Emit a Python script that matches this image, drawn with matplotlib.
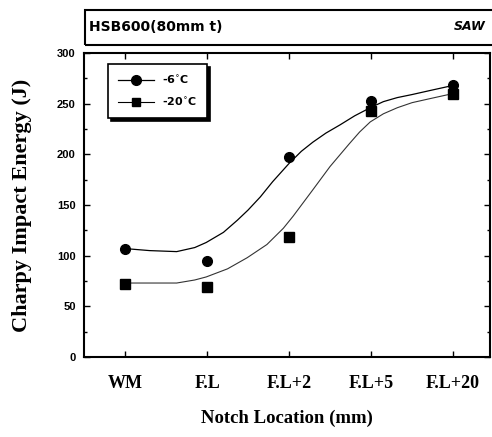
import matplotlib
matplotlib.use("Agg")
import matplotlib.pyplot as plt
from matplotlib.patches import Rectangle
from matplotlib.ticker import MultipleLocator

# ---- data ----
categories = ["WM", "F.L", "F.L+2", "F.L+5", "F.L+20"]
energy_m6 = [107, 95, 197, 253, 268]     # -6 °C
energy_m20 = [72, 69, 118, 243, 260]     # -20 °C

# fitted trend curves (x in category units)
fit_x_m6 = [0.0, 0.3, 0.63, 0.85, 0.99, 1.2, 1.37, 1.5, 1.65, 1.8, 2.0, 2.15, 2.29, 2.45, 2.62, 2.8, 2.99, 3.15, 3.32, 3.5, 3.72, 4.0]
fit_y_m6 = [107, 105, 104, 108, 113, 123, 135, 145, 158, 173, 191, 203, 212, 221, 229, 238, 246, 252, 256, 259, 263, 268]
fit_x_m20 = [0.0, 0.3, 0.63, 0.85, 0.99, 1.25, 1.49, 1.73, 1.93, 2.05, 2.17, 2.29, 2.5, 2.73, 2.86, 2.99, 3.15, 3.32, 3.5, 3.72, 4.0]
fit_y_m20 = [73, 73, 73, 76, 79, 87, 98, 111, 127, 139, 152, 165, 188, 210, 222, 232, 240, 246, 251, 255, 260]

yticks = [0, 50, 100, 150, 200, 250, 300]
ytick_labels = ["0", "50", "100", "150", "200", "250", "300"]

fig = plt.figure(figsize=(4.92, 4.37), dpi=100)
ax = fig.add_axes([84 / 492, 1 - 357 / 437, (490 - 84) / 492, (357 - 53) / 437])

x = list(range(len(categories)))
ax.plot(fit_x_m6, fit_y_m6, color="black", lw=0.9)
ax.plot(fit_x_m20, fit_y_m20, color="#333333", lw=0.8)
ax.plot(x, energy_m6, "o", color="black", ms=7)
ax.plot(x, energy_m20, "s", color="black", ms=6.5)

# legend handles
h1, = ax.plot([], [], "-o", color="black", lw=0.9, ms=7, label="-6$^{\\circ}$C")
h2, = ax.plot([], [], "-s", color="black", lw=0.8, ms=6, label="-20$^{\\circ}$C")
leg = ax.legend(handles=[h1, h2], loc="upper left", bbox_to_anchor=(0.059, 0.964),
                borderaxespad=0, numpoints=1, handlelength=3.2, fancybox=False,
                framealpha=1, edgecolor="black", shadow={"color": "black", "alpha": 1},
                prop={"family": "DejaVu Sans", "weight": "bold", "size": 8},
                borderpad=0.9, labelspacing=0.9)
leg.get_frame().set_linewidth(1.2)

ax.set_xlim(-0.5, 4.45)
ax.set_ylim(0, 300)
ax.set_xticks(x)
ax.set_xticklabels(categories, fontfamily="Liberation Serif", fontweight="bold", fontsize=13)
ax.set_yticks(yticks)
ax.set_yticklabels(ytick_labels, fontfamily="Liberation Sans", fontweight="bold", fontsize=8)
ax.yaxis.set_minor_locator(MultipleLocator(25))
ax.tick_params(axis="both", which="both", direction="in", top=True, right=True)
ax.tick_params(axis="both", which="major", length=4, width=1)
ax.tick_params(axis="both", which="minor", length=2.5, width=1)
ax.tick_params(axis="x", pad=13)
ax.tick_params(axis="y", pad=6)
for s in ax.spines.values():
    s.set_linewidth(1.5)

ax.set_xlabel("Notch Location (mm)", fontfamily="Liberation Serif", fontweight="bold",
              fontsize=13.5, labelpad=13)
ax.set_ylabel("Charpy Impact Energy (J)", fontfamily="Liberation Serif", fontweight="bold",
              fontsize=16, labelpad=18)

# header box
fig.patches.append(Rectangle((85 / 492, 1 - 45 / 437), 1.0, 35 / 437, transform=fig.transFigure,
                             fill=False, edgecolor="black", lw=1.5))
fig.text(89 / 492, 1 - 27 / 437, "HSB600(80mm t)", ha="left", va="center",
         fontfamily="DejaVu Sans", fontweight="bold", fontsize=10)
fig.text(486 / 492, 1 - 27 / 437, "SAW", ha="right", va="center",
         fontfamily="DejaVu Sans", fontweight="bold", fontstyle="italic", fontsize=9)

fig.savefig("out.png", dpi=100)
